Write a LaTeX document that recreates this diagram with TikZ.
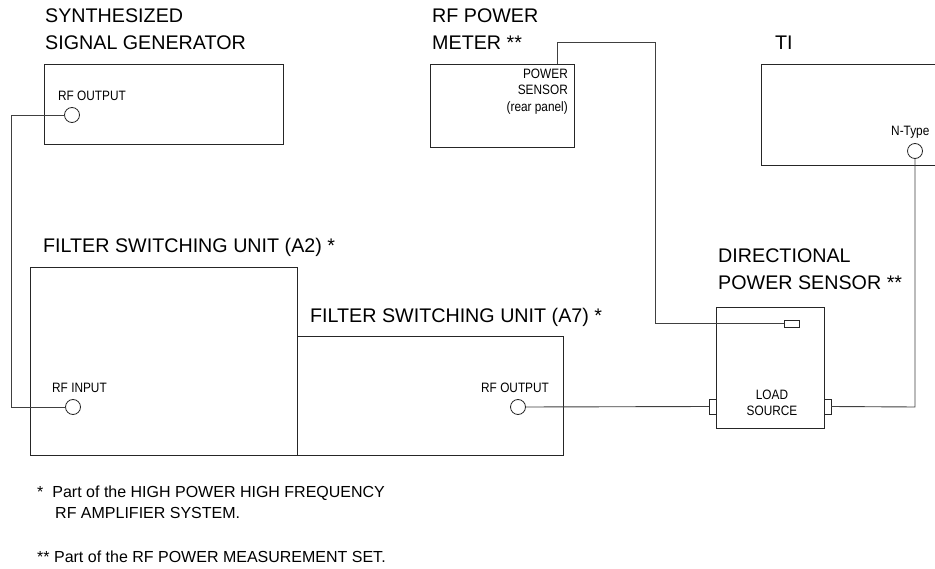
\documentclass[tikz,border=0pt]{standalone}
\usepackage{fontspec}
\setmainfont{Liberation Sans}
\newfontfamily\narrowfont{Liberation Sans}[FakeStretch=0.87]
\begin{document}
\begin{tikzpicture}[x=1pt,y=-1pt,
  box/.style={draw=black!85,line width=0.9pt,inner sep=0pt,outer sep=0pt,anchor=north west},
  port/.style={draw=black!85,line width=0.8pt,circle,inner sep=0pt,outer sep=0pt,minimum size=15pt},
  conn/.style={draw=black!75,line width=0.9pt},
  biglabel/.style={inner sep=0pt,anchor=west,align=left,font=\fontsize{19.7}{27}\selectfont},
  small/.style={inner sep=0pt,font=\narrowfont\fontsize{13.6}{16.5}\selectfont},
  note/.style={inner sep=0pt,anchor=west,font=\fontsize{16}{20}\selectfont}]
\useasboundingbox[fill=white] (0,0) rectangle (935,569);

% boxes
\node[box,minimum width=239pt,minimum height=80pt] (sg) at (44,64) {};
\node[box,minimum width=144pt,minimum height=83pt] (pm) at (430,64) {};
\node[box,minimum width=190pt,minimum height=101pt] (ti) at (761,64) {};
\node[box,minimum width=267pt,minimum height=188pt] (a2) at (30,267) {};
\node[box,minimum width=266pt,minimum height=119pt] (a7) at (297,336) {};
\node[box,minimum width=108pt,minimum height=121pt] (dp) at (716,307) {};
\node[box,minimum width=15pt,minimum height=7pt] (dpport) at (784,320) {};
\node[box,minimum width=7pt,minimum height=15pt] (dpin) at (709,399) {};
\node[box,minimum width=7pt,minimum height=15pt] (dpout) at (824,399) {};

% ports
\node[port] (sgout) at (72,115) {};
\node[port] (a2in) at (73,407) {};
\node[port] (a7out) at (518,407) {};
\node[port] (tiin) at (915,151) {};

% titles
\node[biglabel] (tsg) at (45,29.5) {SYNTHESIZED\\SIGNAL GENERATOR};
\node[biglabel] (tpm) at (432,29.5) {RF POWER\\METER **};
\node[biglabel] (tti) at (775,43) {TI};
\node[biglabel] (ta2) at (43,247.5) {FILTER SWITCHING UNIT (A2) *};
\node[biglabel] (ta7) at (310,317.5) {FILTER SWITCHING UNIT (A7) *};
\node[biglabel] (tdp) at (718,269) {DIRECTIONAL\\POWER SENSOR **};

% small labels
\node[small,anchor=west] (lsg) at (58,96) {RF OUTPUT};
\node[small,anchor=west] (la2) at (52,388) {RF INPUT};
\node[small,anchor=west] (la7) at (481,388) {RF OUTPUT};
\node[small,anchor=east,align=right] (lpm) at (568,91.5) {POWER\\SENSOR\\(rear panel)};
\node[small,anchor=west] (lti) at (891,132) {N-Type};
\node[small,align=center] (ldp) at (772,403) {LOAD\\SOURCE};

% connectors
\coordinate (c1) at (11,115);
\coordinate (pmport) at (557,64);
\coordinate (c2) at (655,42);
\coordinate (c3) at (915,407);
\draw[conn] (sgout.west) -- (c1) |- (a2in.west);
\draw[conn] (pmport) |- (c2) |- (dpport.west);
\draw[conn] (a7out.east) -- (dpin.west);
\draw[conn] (dpout.east) -- (c3) -- (tiin.south);

% notes
\node[note] (n1) at (37,493) {*\hspace{9pt}Part of the HIGH POWER HIGH FREQUENCY};
\node[note] (n2) at (55,513) {RF AMPLIFIER SYSTEM.};
\node[note] (n3) at (37,557) {** Part of the RF POWER MEASUREMENT SET.};
\end{tikzpicture}
\end{document}
